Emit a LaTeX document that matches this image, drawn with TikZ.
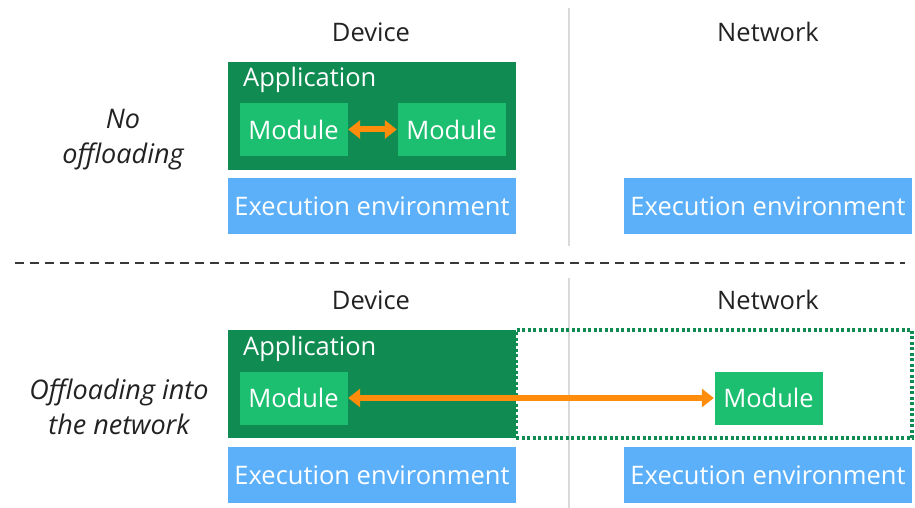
\documentclass[tikz,border=0pt]{standalone}
\usepackage{fontspec}
\setmainfont{Open Sans}
\usetikzlibrary{arrows.meta}
\definecolor{appgreen}{RGB}{16,140,82}
\definecolor{modgreen}{RGB}{28,190,112}
\definecolor{envblue}{RGB}{92,176,250}
\definecolor{linkorange}{RGB}{255,140,10}
\definecolor{sepgray}{RGB}{218,218,218}
\definecolor{headgray}{RGB}{34,34,34}
\def\BoxW{288}
\def\AppH{108}
\def\EnvH{56}
\def\ModW{108}
\def\ModH{53}

\begin{document}
\begin{tikzpicture}[x=1pt,y=-1pt,
  txt/.style={font=\fontsize{25.5}{34}\selectfont},
  head/.style={txt, text=headgray},
  side/.style={text=headgray, font=\fontsize{27}{35}\selectfont\itshape, align=center},
  app/.style={fill=appgreen, minimum width=\BoxW pt, minimum height=\AppH pt, inner sep=0pt},
  apptitle/.style={txt, text=white, anchor=west, inner sep=0pt},
  module/.style={txt, text=white, fill=modgreen, minimum width=\ModW pt, minimum height=\ModH pt, inner sep=0pt},
  env/.style={txt, text=white, fill=envblue, minimum width=\BoxW pt, minimum height=\EnvH pt, inner sep=0pt},
  remote/.style={draw=appgreen, line width=3.5pt, dash pattern=on 3pt off 2.5pt, minimum width=396pt, minimum height=\AppH pt, inner sep=0pt},
  link/.style={draw=linkorange, line width=6pt, {Triangle[width=18pt,length=12pt]}-{Triangle[width=18pt,length=12pt]}, shorten <=0.5pt, shorten >=0.5pt},
  sep/.style={draw=sepgray, line width=1.5pt},
  cut/.style={draw=headgray!90, line width=1.6pt, dash pattern=on 9pt off 6pt}]
\useasboundingbox (0,0) rectangle (915,508);

% no offloading
\node[head] (devA) at (371,32) {Device};
\node[head] (netA) at (768,32) {Network};
\node[side] (caseA) at (123,140) {No\\offloading};

\coordinate (sepA1) at (569,8);
\coordinate (sepA2) at (569,246);
\draw[sep] (sepA1) -- (sepA2);

\node[app] (appA) at (372,116) {};
\node[apptitle] (appAt) at (243,80) {Application};
\node[module] (modA1) at (293.5,129.5) {Module};
\node[module] (modA2) at (451.5,129.5) {Module};
\node[env] (envA1) at (372,206) {Execution environment};
\node[env] (envA2) at (768,206) {Execution environment};

\draw[link] (modA1) -- (modA2);

\coordinate (cutL) at (15,263);
\coordinate (cutR) at (905,263);
\draw[cut] (cutL) -- (cutR);

% offloading into the network
\node[head] (devB) at (371,300) {Device};
\node[head] (netB) at (768,300) {Network};
\node[side] (caseB) at (119,407) {Offloading into\\the network};

\coordinate (sepB1) at (569,278);
\coordinate (sepB2) at (569,508);
\draw[sep] (sepB1) -- (sepB2);

\node[remote] (remB) at (714,384) {};
\node[app] (appB) at (372,384) {};
\node[apptitle] (appBt) at (243,349) {Application};
\node[module] (modB1) at (293.5,398) {Module};
\node[module] (modB2) at (768.5,398) {Module};
\node[env] (envB1) at (372,475) {Execution environment};
\node[env] (envB2) at (768,475) {Execution environment};

\draw[link] (modB1) -- (modB2);
\end{tikzpicture}
\end{document}
